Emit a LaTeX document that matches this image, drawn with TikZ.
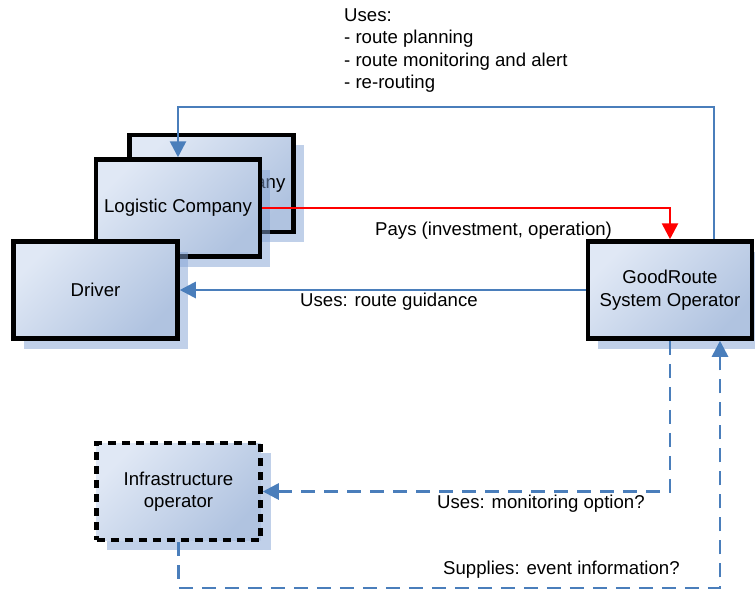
\documentclass[tikz,border=0pt]{standalone}
\usepackage{fontspec}
\setmainfont{Liberation Sans}
\usetikzlibrary{arrows.meta,shadows}
\definecolor{lineblue}{RGB}{74,126,187}
\definecolor{boxlight}{RGB}{224,232,245}
\definecolor{boxdark}{RGB}{176,195,224}
\definecolor{shadowblue}{RGB}{130,162,212}
\begin{document}
\begin{tikzpicture}[x=1pt,y=-1pt,
  every node/.style={font=\fontsize{18.6}{22.5}\selectfont},
  box/.style={draw=black, line width=4.5pt, top color=boxlight, bottom color=boxdark,
    shading angle=45, minimum width=164pt, minimum height=97pt, align=center, inner sep=0pt,
    drop shadow={shadow xshift=10pt, shadow yshift=-10pt, fill=shadowblue, opacity=0.5}},
  dashbox/.style={box, dash pattern=on 8pt off 6pt},
  conn/.style={draw=lineblue, line width=2.7pt, -{Triangle[length=16pt,width=16pt]}},
  dashconn/.style={conn, dash pattern=on 14pt off 9pt},
  redconn/.style={draw=red, line width=2.7pt, -{Triangle[length=16pt,width=16pt]}},
  lbl/.style={anchor=base west, inner sep=0pt}]
\useasboundingbox (0,0) rectangle (755,594);

\node[box] (logb) at (211.5,183.5) {Logistic Company};
\node[box] (log) at (178,208) {Logistic Company};
\node[box] (drv) at (95.5,290) {Driver};
\node[box] (gr) at (670,290) {GoodRoute\\System Operator};
\node[dashbox] (inf) at (178.5,491.5) {Infrastructure\\operator};

\coordinate (topc) at (450,107);
\coordinate (botc) at (720,588);

\draw[conn] ([xshift=44pt]gr.north) |- (topc) -| (log.north);
\draw[redconn] (log.east) -| (gr.north);
\draw[conn] (gr.west) -- (drv.east);
\draw[dashconn] (gr.south) |- (inf.east);
\draw[dashconn] (inf.south) |- (botc) -- ([xshift=50pt]gr.south);

\node[anchor=north west, inner sep=0pt, align=left] (uses) at (344,8.5)
  {Uses:\\- route planning\\- route monitoring and alert\\- re-routing};
\node[lbl] (pays) at (375,235) {Pays (investment, operation)};
\node[lbl] (guid) at (300,306) {Uses: route guidance};
\node[lbl] (mon) at (437,508) {Uses: monitoring option?};
\node[lbl] (sup) at (443,574) {Supplies: event information?};
\end{tikzpicture}
\end{document}
